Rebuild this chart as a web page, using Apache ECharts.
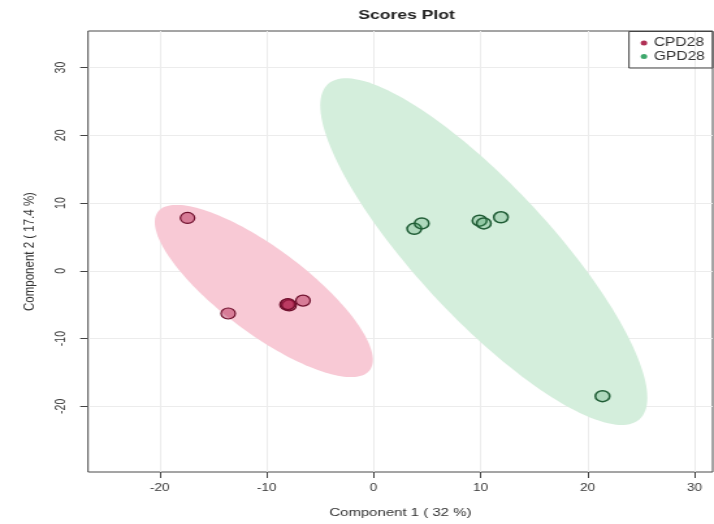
<!DOCTYPE html>
<html>
<head>
<meta charset="utf-8">
<script src="https://cdn.jsdelivr.net/npm/echarts@6/dist/echarts.min.js"></script>
<style>
html,body{margin:0;padding:0;background:#fff}
#wrap{width:714px;height:524px;overflow:hidden;position:relative}
#c{width:549px;height:524px;transform:scaleX(1.3005);transform-origin:0 0}
</style>
</head>
<body>
<div id="wrap"><div id="c"></div></div>
<script>
// ---- data ----
var groups = ['CPD28', 'GPD28'];
var cpdX = [-17.4, -13.6, -8.1, -7.9, -8.0, -6.6];
var cpdY = [7.8, -6.3, -5.0, -5.1, -4.9, -4.4];
var gpdX = [3.8, 4.5, 9.9, 10.3, 11.9, 21.4];
var gpdY = [6.2, 7.0, 7.4, 7.0, 7.9, -18.5];
var xTicks = [-20, -10, 0, 10, 20, 30];
var yTicks = [-20, -10, 0, 10, 20, 30];
// 95% confidence ellipse shape matrices [xx, yy, xy] (data units)
var cpdEllipse = [103.9, 161.6, -103.6];
var gpdEllipse = [233.7, 654.7, -329.7];

function zip(xs, ys) { return xs.map(function (x, i) { return [x, ys[i]]; }); }
function mean(a) { var s = 0; a.forEach(function (v) { s += v; }); return s / a.length; }

function ellipseSeries(name, xs, ys, shape, fill) {
  var mx = mean(xs), my = mean(ys);
  var a = Math.sqrt(shape[0]), b = shape[2] / a, c = Math.sqrt(shape[1] - b * b);
  return {
    type: 'custom',
    name: name + '_ellipse',
    coordinateSystem: 'cartesian2d',
    silent: true,
    z: 1,
    data: [[mx, my]],
    renderItem: function (params, api) {
      var pts = [];
      for (var k = 0; k < 160; k++) {
        var t = 2 * Math.PI * k / 160;
        var u = Math.cos(t), v = Math.sin(t);
        pts.push(api.coord([mx + a * u, my + b * u + c * v]));
      }
      return { type: 'polygon', shape: { points: pts }, style: { fill: fill, stroke: null } };
    }
  };
}

var FONT = 'Liberation Sans, Arial, sans-serif';
var chart = echarts.init(document.getElementById('c'), null, { renderer: 'canvas' });
var labelStyle = { color: '#3a3a3a', fontSize: 10.5, fontFamily: FONT };
chart.setOption({
  animation: false,
  backgroundColor: '#fff',
  title: {
    text: 'Scores Plot', left: 307.6, top: 3, textAlign: 'center',
    textStyle: { fontSize: 13.5, fontWeight: 'bold', color: '#222', fontFamily: FONT }
  },
  legend: {
    data: [
      { name: groups[0], itemStyle: { color: '#b03055', borderWidth: 0 } },
      { name: groups[1], itemStyle: { color: '#3ea86c', borderWidth: 0 } }
    ],
    orient: 'vertical', right: 1, top: 31.5,
    borderColor: '#444', borderWidth: 1, padding: [5.5, 6, 5.5, 9], itemGap: 1.5,
    itemWidth: 5, itemHeight: 5, icon: 'circle',
    textStyle: { fontSize: 12, color: '#333', fontFamily: FONT }
  },
  grid: { left: 67.7, right: 1, top: 31, bottom: 50, show: true, borderColor: '#4a4a4a', borderWidth: 1, backgroundColor: '#fff' },
  xAxis: {
    type: 'value', min: -26.7, max: 31.7,
    name: 'Component 1 ( 32 %)', nameLocation: 'middle', nameGap: 35,
    nameTextStyle: { fontSize: 11.5, color: '#333', fontFamily: FONT },
    axisLine: { show: false, onZero: false },
    axisTick: { show: true, customValues: xTicks, length: 6, inside: false, lineStyle: { color: '#444' } },
    axisLabel: Object.assign({ customValues: xTicks, margin: 11 }, labelStyle),
    splitLine: { show: true, lineStyle: { color: '#ececec', width: 1 } }
  },
  yAxis: {
    type: 'value', min: -29.7, max: 35.4,
    name: 'Component 2 ( 17.4 %)', nameLocation: 'middle', nameGap: 39,
    nameTextStyle: { fontSize: 11.5, color: '#333', fontFamily: FONT },
    axisLine: { show: false, onZero: false },
    axisTick: { show: true, customValues: yTicks, length: 6, inside: false, lineStyle: { color: '#444' } },
    axisLabel: Object.assign({ customValues: yTicks, margin: 15, rotate: 90 }, labelStyle),
    splitLine: { show: true, lineStyle: { color: '#ececec', width: 1 } }
  },
  series: [
    ellipseSeries('CPD28', cpdX, cpdY, cpdEllipse, '#f8c9d5'),
    ellipseSeries('GPD28', gpdX, gpdY, gpdEllipse, '#d4eedc'),
    {
      type: 'scatter', name: 'CPD28', z: 3, data: zip(cpdX, cpdY), symbolSize: 11,
      itemStyle: { color: 'rgba(175,30,75,0.45)', borderColor: '#6e0f2c', borderWidth: 1.2, opacity: 1 }
    },
    {
      type: 'scatter', name: 'GPD28', z: 3, data: zip(gpdX, gpdY), symbolSize: 11,
      itemStyle: { color: 'rgba(60,150,90,0.25)', borderColor: '#1f5c35', borderWidth: 1.5, opacity: 1 }
    }
  ]
});
</script>
</body>
</html>
